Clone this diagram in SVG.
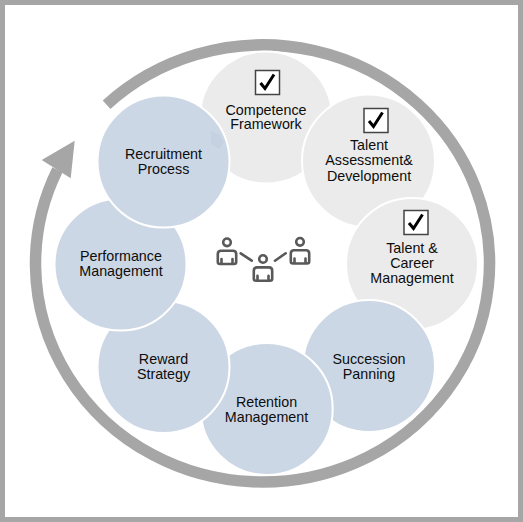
<svg xmlns="http://www.w3.org/2000/svg" width="523" height="522" viewBox="0 0 523 522">
<style>
.n{stroke:#fff;stroke-width:2}
.g{fill:#ebebeb}
.b{fill:#ccd7e5}
text{font-family:"Liberation Sans",Arial,sans-serif;font-size:14.3px;fill:#0d0d0d;text-anchor:middle}
.box{fill:#fff;stroke:#444;stroke-width:1.5}
.chk{fill:none;stroke:#000;stroke-width:3}
.p{fill:none;stroke:#595959;stroke-width:2.6;stroke-linecap:round;stroke-linejoin:round}
</style>
<defs>
<g id="check"><rect class="box" x="-12" y="-12" width="24" height="24"/><path class="chk" d="M-7 0.500L-2.500 6L6.500 -8"/></g>
<g id="person"><circle class="p" cx="0" cy="-9.700" r="3.800"/><path class="p" d="M-9.200 10V2Q-9.200 -1.300 -6 -1.300H6Q9.200 -1.300 9.200 2V10Q9.200 12 7 12H-7Q-9.200 12 -9.200 10ZM-5.500 7V12M5.500 7V12"/></g>
</defs>
<rect x="2.500" y="2.500" width="518" height="517" fill="#fff" stroke="#a6a6a6" stroke-width="5"/>
<g id="connectors">
<path d="M106.600 104.700A227 218.500 0 1 1 57.500 169.700" fill="none" stroke="#a6a6a6" stroke-width="11.500"/>
<polygon points="74.700,140.700 41.700,160 70.700,178.300" fill="#a6a6a6"/>
</g>
<g id="competence"><circle class="n g" cx="266" cy="117.500" r="66"/><use href="#check" x="267.500" y="82.500"/><text x="266" y="114.500">Competence</text><text x="266" y="129">Framework</text></g>
<g id="talent-assessment"><circle class="n g" cx="368.500" cy="161" r="66.500"/><use href="#check" x="376" y="120.500"/><text x="369" y="150">Talent</text><text x="369" y="165">Assessment&amp;</text><text x="369" y="180.500">Development</text></g>
<g id="talent-career"><circle class="n g" cx="412" cy="264" r="66"/><use href="#check" x="416" y="222.500"/><text x="412" y="253">Talent &amp;</text><text x="412" y="268">Career</text><text x="412" y="283">Management</text></g>
<g id="succession"><circle class="n b" cx="369" cy="366" r="66"/><text x="369" y="364">Succession</text><text x="369" y="378.500">Panning</text></g>
<g id="retention"><circle class="n b" cx="266.700" cy="409" r="66"/><text x="266.500" y="407">Retention</text><text x="266.500" y="421.500">Management</text></g>
<g id="reward"><circle class="n b" cx="163.500" cy="367" r="66"/><text x="163.500" y="364">Reward</text><text x="163.500" y="378.500">Strategy</text></g>
<g id="performance"><circle class="n b" cx="120.500" cy="264.500" r="66"/><text x="121" y="261">Performance</text><text x="121" y="275.500">Management</text></g>
<g id="recruitment"><circle class="n b" cx="163.500" cy="161.500" r="66"/><polygon points="211,131 220,135 224,143 219,149 211,144" fill="#c5d1e1"/><text x="163.500" y="158.500">Recruitment</text><text x="163.500" y="173.500">Process</text></g>
<g id="people"><use href="#person" x="227" y="252"/><use href="#person" x="263" y="268.700"/><use href="#person" x="300" y="251.500"/><path class="p" d="M240.700 253.300L251.700 260.700M275 260.700L285.700 253.300"/></g>
</svg>
